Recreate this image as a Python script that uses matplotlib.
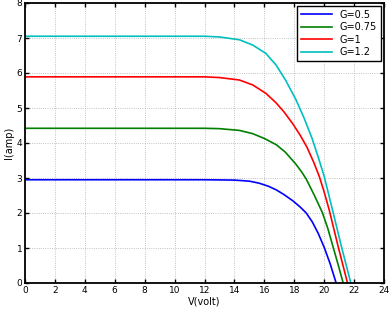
import matplotlib
matplotlib.use("Agg")
import matplotlib.pyplot as plt

# Courbes I-V pour différents éclairements G
v_05 = [0, 4, 8, 12, 14, 15, 15.67, 16.3, 16.8, 17.3, 17.9, 18.4, 18.8, 19.2, 19.6, 20.0, 20.4, 20.8]
i_05 = [2.95, 2.95, 2.95, 2.95, 2.94, 2.91, 2.85, 2.76, 2.66, 2.53, 2.35, 2.17, 2.0, 1.75, 1.42, 1.02, 0.55, 0.0]

v_075 = [0, 4, 8, 12, 13, 14.33, 15.2, 16.0, 16.8, 17.4, 18.1, 18.5, 18.8, 19.35, 19.89, 20.25, 20.55, 20.95, 21.27]
i_075 = [4.42, 4.42, 4.42, 4.42, 4.41, 4.36, 4.27, 4.13, 3.95, 3.74, 3.4, 3.17, 2.97, 2.5, 2.0, 1.55, 1.1, 0.5, 0.0]

v_1 = [0, 4, 8, 12, 13, 14.33, 15.22, 16.1, 16.78, 17.33, 17.9, 18.4, 18.85, 19.3, 19.67, 20.0, 20.33, 20.93, 21.56]
i_1 = [5.89, 5.89, 5.89, 5.89, 5.87, 5.8, 5.66, 5.42, 5.15, 4.88, 4.55, 4.22, 3.88, 3.45, 3.05, 2.6, 2.1, 1.05, 0.0]

v_12 = [0, 4, 8, 12, 13, 14.33, 15.22, 16.1, 16.78, 17.44, 18.1, 18.67, 19.2, 19.6, 20.0, 20.55, 21.15, 21.78]
i_12 = [7.05, 7.05, 7.05, 7.05, 7.03, 6.95, 6.8, 6.56, 6.23, 5.78, 5.25, 4.7, 4.12, 3.6, 3.05, 2.1, 1.05, 0.0]

labels = ["G=0.5", "G=0.75", "G=1", "G=1.2"]
colors = ["#0000ff", "#008000", "#ff0000", "#00bfbf"]

xticks = list(range(0, 25, 2))
yticks = list(range(0, 9))

plt.rcParams["font.family"] = "DejaVu Sans"
fig = plt.figure(figsize=(3.91, 3.10), dpi=100)
ax = fig.add_axes([25 / 391, 27 / 310, 359 / 391, 280 / 310])

for v, i, lab, c in zip([v_05, v_075, v_1, v_12], [i_05, i_075, i_1, i_12], labels, colors):
    ax.plot(v, i, color=c, linewidth=1.2, label=lab)

ax.set_xlim(0, 24)
ax.set_ylim(0, 8)
ax.set_xticks(xticks)
ax.set_yticks(yticks)
ax.tick_params(direction="in", top=True, right=True, labelsize=6.5, length=3, width=1, pad=2)
ax.grid(True, linestyle=":", color="#b0b0b0", linewidth=0.6)
for s in ax.spines.values():
    s.set_linewidth(1.3)

ax.set_xlabel("V(volt)", fontsize=7, labelpad=1)
ax.set_ylabel("I(amp)", fontsize=7, labelpad=2)

leg = ax.legend(loc="upper right", fontsize=7, fancybox=False, framealpha=1,
                edgecolor="black", borderaxespad=0.3, handlelength=3.2,
                labelspacing=0.25, borderpad=0.4)
leg.get_frame().set_linewidth(1.0)

fig.savefig("out.png", dpi=100)
